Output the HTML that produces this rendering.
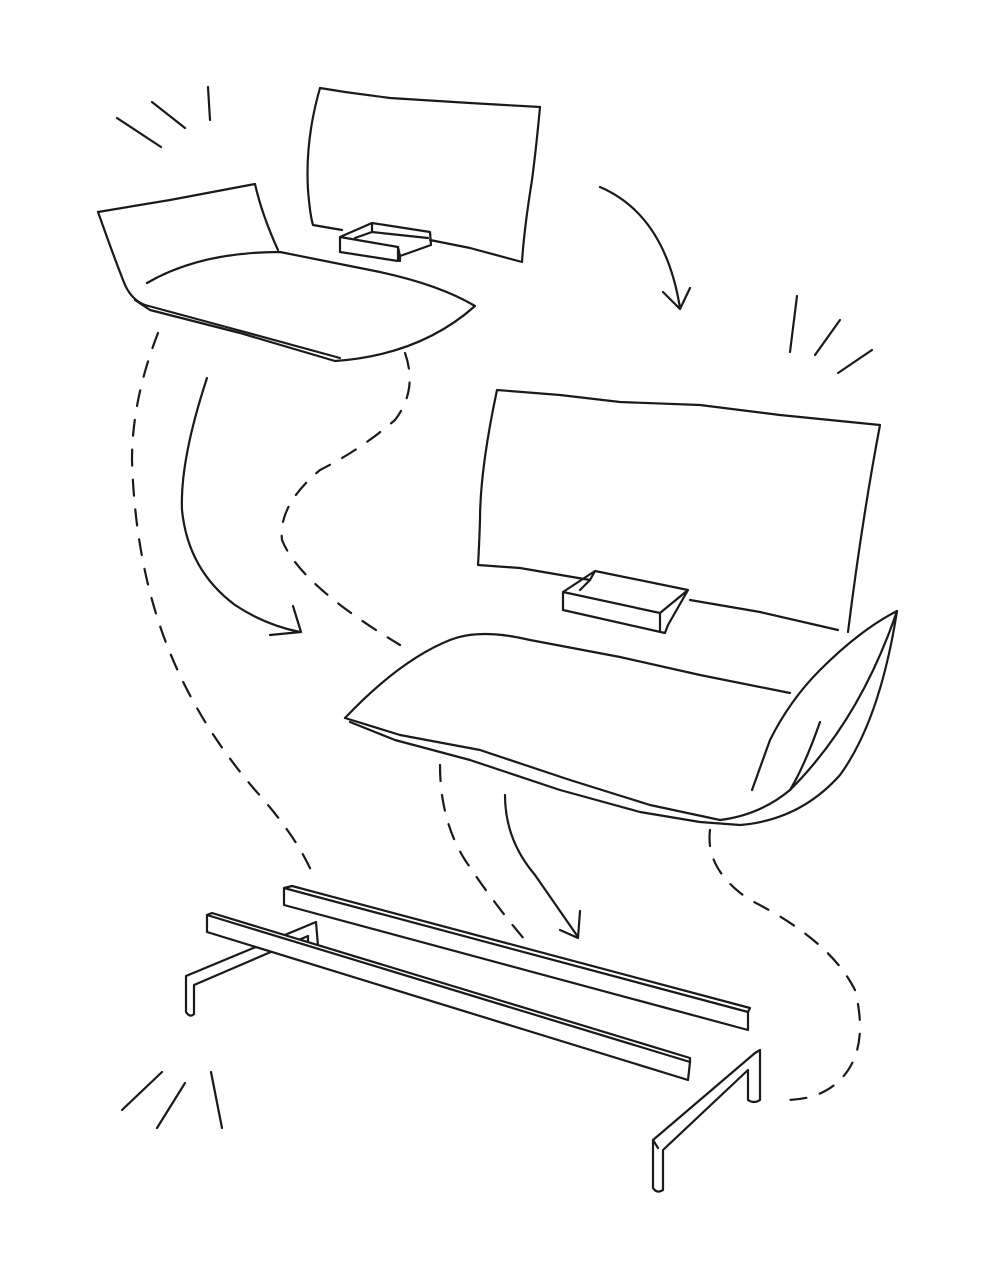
<!DOCTYPE html>
<html><head><meta charset="utf-8"><style>
html,body{margin:0;padding:0;background:#fff;}
svg{display:block;}
</style></head><body>
<svg width="996" height="1280" viewBox="0 0 996 1280" xmlns="http://www.w3.org/2000/svg" fill="none" stroke="#1a1a1a" stroke-width="2.2" stroke-linecap="round" stroke-linejoin="round">
<!-- burst lines -->
<path d="M117 118 L161 147 M152 102 L185 128 M208 87 L210 120"/>
<path d="M797 296 L790 352 M840 320 L815 355 M872 350 L838 373"/>
<path d="M122 1110 L162 1072 M157 1128 L185 1083 M211 1072 L222 1128"/>

<!-- top backrest panel -->
<path d="M320 88 L345 92 L390 98 L470 103 L540 107 Q536 150 532 180 Q524 230 522 262 M320 88 Q305 140 308 190 Q310 215 313 225 L342 230 M430 240 L470 248 L522 262"/>
<!-- small tray top -->
<path d="M340 237 L372 223 L430 232 L431 245 L400 256 L398 247 Z M340 237 L340 252 L398 261 L398 247 M372 223 L372 232 L355 238 M372 232 L428 238 M400 256 L400 261"/>

<!-- top seat -->
<path d="M98 212 L170 200 L255 184 Q262 215 278 250"/>
<path d="M98 212 Q115 260 125 285 Q132 300 145 305 L230 328 L340 358"/>
<path d="M135 300 L150 310 L240 333 L335 361 Q420 355 475 306 Q440 285 380 272 L280 252 Q200 252 147 283"/>

<!-- top-right curved arrow -->
<path d="M600 187 Q665 215 680 308 M663 292 L680 309 L690 288"/>

<!-- big backrest -->
<path d="M497 390 L560 395 L620 402 L700 405 L780 415 L880 425 Q862 520 848 632 M497 390 Q480 470 480 520 Q479 550 478 565 L520 568 L590 580 M690 600 L760 612 L838 630"/>
<!-- big tray -->
<path d="M563 592 L595 571 L688 590 L668 625 L665 633 L563 610 Z M563 592 L660 613 L688 590 M595 571 L590 580 L580 590 M660 613 L660 632"/>

<!-- big seat -->
<path d="M345 718 Q400 660 450 640 Q480 628 530 640 L620 657 L700 675 L790 693"/>
<path d="M345 718 L400 735 L480 750 L570 780 L650 805 L720 820 Q760 815 790 790 Q860 720 897 611 Q860 630 820 670 Q790 700 770 740 L752 790"/>
<path d="M350 722 L395 740 L470 760 L560 790 L640 812 L700 822 L740 825 Q800 820 840 775 Q880 720 897 611"/>
<path d="M820 722 Q805 765 790 790"/>

<!-- solid arrow left -->
<path d="M207 378 Q180 460 182 510 Q188 570 235 605 Q265 625 300 632 M270 635 L301 632 L293 606"/>
<!-- solid arrow lower -->
<path d="M505 795 Q505 840 535 875 L578 937 M560 930 L578 938 L580 911"/>

<!-- dashed -->
<g stroke-dasharray="16 14">
<path d="M158 333 Q132 400 132 460 Q135 560 165 640 Q195 720 255 790 Q300 840 315 880"/>
<path d="M405 353 Q418 390 395 420 Q360 450 320 470 Q278 505 282 540 Q300 585 400 645"/>
<path d="M440 765 Q440 820 465 860 Q495 905 525 940"/>
<path d="M710 830 Q705 870 750 900 Q830 940 855 990 Q870 1050 840 1080 Q820 1100 785 1100"/>
</g>

<!-- left leg (drawn first, bar overlaps) -->
<path d="M186 1012 L186 976 L316 922 L318 946 Q313 950 308 946 L308 936 L194 985 L194 1014 Q190 1018 186 1012" fill="#fff"/>

<!-- bars -->
<path d="M284 888 L284 905 L748 1030 L748 1012 L284 888 Z M284 888 L292 886 L750 1008 L748 1012" fill="#fff"/>
<path d="M207 915 L207 932 L688 1080 L690 1062 L207 915 Z M207 915 L212 913 L690 1058 L690 1062" fill="#fff"/>
<!-- right leg -->
<path d="M653 1140 L653 1188 Q657 1194 663 1190 L663 1150 L748 1070 L748 1100 Q754 1104 760 1100 L760 1050 L755 1053 L653 1140 M653 1140 L658 1148"/>
</svg>
</body></html>
